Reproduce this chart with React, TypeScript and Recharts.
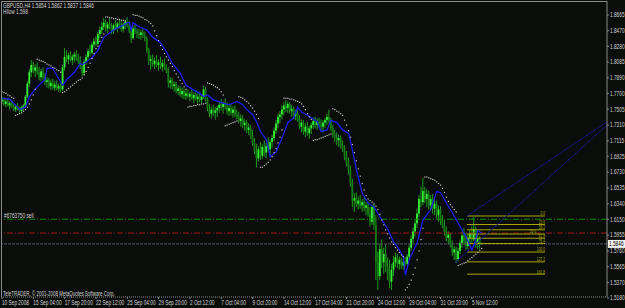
import React from "react";
import { Bar, ComposedChart, Line, ReferenceLine, Scatter, XAxis, YAxis } from "recharts";

// GBPUSD H4, one entry per bar (bar 0 = 10 Sep 2008 00:00)
const opens = [
  1.760, 1.762, 1.757, 1.760, 1.755, 1.758, 1.753, 1.750, 1.754, 1.751,
  1.748, 1.753, 1.755, 1.766, 1.782, 1.796, 1.805, 1.798, 1.802, 1.796,
  1.790, 1.797, 1.789, 1.784, 1.786, 1.779, 1.783, 1.777, 1.781, 1.776,
  1.779, 1.775, 1.802, 1.815, 1.812, 1.817, 1.811, 1.815, 1.818, 1.813,
  1.810, 1.803, 1.795, 1.809, 1.815, 1.822, 1.820, 1.830, 1.834, 1.831,
  1.843, 1.848, 1.852, 1.857, 1.850, 1.855, 1.852, 1.847, 1.854, 1.851,
  1.856, 1.853, 1.849, 1.855, 1.858, 1.854, 1.847, 1.838, 1.850, 1.846,
  1.844, 1.842, 1.845, 1.841, 1.838, 1.823, 1.810, 1.812, 1.806, 1.810,
  1.805, 1.808, 1.803, 1.807, 1.801, 1.798, 1.783, 1.786, 1.779, 1.781,
  1.773, 1.776, 1.769, 1.773, 1.767, 1.770, 1.766, 1.769, 1.764, 1.768,
  1.763, 1.766, 1.762, 1.766, 1.775, 1.762, 1.751, 1.745, 1.750, 1.746,
  1.749, 1.752, 1.756, 1.753, 1.757, 1.754, 1.748, 1.752, 1.746, 1.750,
  1.744, 1.741, 1.736, 1.739, 1.731, 1.734, 1.725, 1.728, 1.717, 1.709,
  1.699, 1.690, 1.701, 1.693, 1.704, 1.697, 1.705, 1.701, 1.710, 1.715,
  1.724, 1.733, 1.741, 1.744, 1.750, 1.755, 1.752, 1.757, 1.748, 1.751,
  1.742, 1.746, 1.738, 1.729, 1.734, 1.723, 1.729, 1.721, 1.727, 1.731,
  1.736, 1.731, 1.735, 1.732, 1.729, 1.734, 1.737, 1.741, 1.736, 1.727,
  1.719, 1.716, 1.712, 1.715, 1.706, 1.702, 1.692, 1.684, 1.676, 1.660,
  1.638, 1.641, 1.634, 1.638, 1.632, 1.636, 1.629, 1.632, 1.622, 1.612,
  1.630, 1.608, 1.562, 1.545, 1.578, 1.562, 1.572, 1.556, 1.548, 1.538,
  1.553, 1.562, 1.568, 1.560, 1.565, 1.558, 1.562, 1.560, 1.569, 1.580,
  1.591, 1.600, 1.610, 1.622, 1.640, 1.636, 1.650, 1.640, 1.646, 1.632,
  1.640, 1.628, 1.634, 1.620, 1.627, 1.613, 1.608, 1.599, 1.592, 1.596,
  1.585, 1.574, 1.578, 1.566, 1.576, 1.586, 1.595, 1.588, 1.582, 1.592,
  1.598, 1.590, 1.603, 1.585, 1.591, 1.5854,
];
const highs = [
  1.766, 1.765, 1.763, 1.764, 1.760, 1.762, 1.757, 1.756, 1.758, 1.753,
  1.755, 1.757, 1.768, 1.785, 1.800, 1.811, 1.809, 1.806, 1.808, 1.803,
  1.800, 1.802, 1.795, 1.790, 1.789, 1.787, 1.788, 1.785, 1.786, 1.782,
  1.783, 1.805, 1.826, 1.823, 1.820, 1.822, 1.818, 1.821, 1.823, 1.819,
  1.816, 1.807, 1.812, 1.818, 1.825, 1.830, 1.833, 1.838, 1.840, 1.846,
  1.852, 1.858, 1.863, 1.861, 1.858, 1.862, 1.857, 1.856, 1.860, 1.858,
  1.862, 1.859, 1.857, 1.861, 1.864, 1.859, 1.851, 1.853, 1.855, 1.850,
  1.849, 1.848, 1.849, 1.846, 1.840, 1.826, 1.817, 1.818, 1.814, 1.817,
  1.812, 1.815, 1.811, 1.813, 1.806, 1.802, 1.790, 1.789, 1.785, 1.784,
  1.780, 1.779, 1.777, 1.776, 1.774, 1.775, 1.772, 1.775, 1.771, 1.774,
  1.770, 1.772, 1.769, 1.780, 1.778, 1.765, 1.757, 1.754, 1.756, 1.753,
  1.755, 1.760, 1.763, 1.760, 1.764, 1.759, 1.756, 1.757, 1.754, 1.755,
  1.750, 1.747, 1.744, 1.743, 1.738, 1.737, 1.733, 1.731, 1.725, 1.715,
  1.708, 1.705, 1.710, 1.708, 1.712, 1.709, 1.716, 1.713, 1.719, 1.728,
  1.737, 1.745, 1.748, 1.755, 1.759, 1.762, 1.760, 1.759, 1.756, 1.754,
  1.750, 1.749, 1.743, 1.738, 1.737, 1.733, 1.735, 1.730, 1.734, 1.740,
  1.741, 1.739, 1.740, 1.738, 1.737, 1.740, 1.745, 1.750, 1.740, 1.731,
  1.725, 1.722, 1.719, 1.718, 1.712, 1.706, 1.699, 1.691, 1.681, 1.665,
  1.647, 1.648, 1.643, 1.645, 1.640, 1.642, 1.636, 1.637, 1.630, 1.633,
  1.634, 1.620, 1.575, 1.585, 1.590, 1.580, 1.584, 1.568, 1.565, 1.560,
  1.570, 1.574, 1.572, 1.569, 1.568, 1.566, 1.568, 1.572, 1.584, 1.595,
  1.605, 1.614, 1.628, 1.645, 1.655, 1.666, 1.655, 1.652, 1.650, 1.645,
  1.646, 1.639, 1.638, 1.632, 1.631, 1.620, 1.614, 1.606, 1.600, 1.598,
  1.589, 1.582, 1.581, 1.580, 1.589, 1.600, 1.604, 1.598, 1.596, 1.602,
  1.606, 1.618, 1.606, 1.596, 1.594, 1.5862,
];
const lows = [
  1.757, 1.755, 1.753, 1.754, 1.750, 1.752, 1.748, 1.747, 1.749, 1.746,
  1.746, 1.749, 1.753, 1.764, 1.778, 1.790, 1.795, 1.790, 1.793, 1.786,
  1.785, 1.787, 1.780, 1.777, 1.776, 1.774, 1.775, 1.773, 1.774, 1.772,
  1.771, 1.773, 1.798, 1.808, 1.806, 1.809, 1.805, 1.808, 1.810, 1.806,
  1.800, 1.791, 1.792, 1.805, 1.811, 1.816, 1.818, 1.826, 1.828, 1.829,
  1.838, 1.843, 1.848, 1.846, 1.844, 1.849, 1.843, 1.843, 1.848, 1.845,
  1.850, 1.846, 1.845, 1.849, 1.851, 1.844, 1.832, 1.836, 1.843, 1.838,
  1.837, 1.836, 1.838, 1.834, 1.820, 1.805, 1.799, 1.803, 1.800, 1.802,
  1.798, 1.800, 1.797, 1.799, 1.795, 1.777, 1.776, 1.775, 1.772, 1.770,
  1.768, 1.766, 1.764, 1.763, 1.762, 1.764, 1.760, 1.762, 1.758, 1.761,
  1.757, 1.759, 1.758, 1.763, 1.760, 1.748, 1.741, 1.739, 1.742, 1.738,
  1.741, 1.746, 1.749, 1.745, 1.750, 1.744, 1.742, 1.743, 1.740, 1.741,
  1.738, 1.733, 1.729, 1.727, 1.724, 1.721, 1.719, 1.714, 1.705, 1.695,
  1.679, 1.686, 1.688, 1.689, 1.692, 1.690, 1.698, 1.694, 1.703, 1.711,
  1.720, 1.727, 1.733, 1.738, 1.743, 1.747, 1.746, 1.745, 1.741, 1.738,
  1.737, 1.735, 1.726, 1.722, 1.719, 1.716, 1.718, 1.714, 1.720, 1.726,
  1.727, 1.725, 1.728, 1.724, 1.722, 1.727, 1.731, 1.733, 1.724, 1.715,
  1.710, 1.706, 1.704, 1.702, 1.698, 1.688, 1.680, 1.670, 1.655, 1.630,
  1.624, 1.630, 1.627, 1.628, 1.624, 1.625, 1.620, 1.618, 1.606, 1.608,
  1.602, 1.540, 1.528, 1.540, 1.555, 1.548, 1.550, 1.540, 1.530, 1.528,
  1.545, 1.556, 1.555, 1.553, 1.554, 1.553, 1.557, 1.558, 1.565, 1.576,
  1.586, 1.594, 1.604, 1.618, 1.630, 1.632, 1.635, 1.630, 1.627, 1.625,
  1.622, 1.620, 1.616, 1.612, 1.608, 1.604, 1.595, 1.588, 1.584, 1.580,
  1.570, 1.565, 1.561, 1.563, 1.572, 1.580, 1.583, 1.577, 1.578, 1.584,
  1.586, 1.588, 1.580, 1.578, 1.579, 1.5837,
];
const closes = [
  1.762, 1.757, 1.760, 1.755, 1.758, 1.753, 1.750, 1.754, 1.751, 1.748,
  1.753, 1.755, 1.766, 1.782, 1.796, 1.805, 1.798, 1.802, 1.796, 1.790,
  1.797, 1.789, 1.784, 1.786, 1.779, 1.783, 1.777, 1.781, 1.776, 1.779,
  1.775, 1.802, 1.815, 1.812, 1.817, 1.811, 1.815, 1.818, 1.813, 1.810,
  1.803, 1.795, 1.809, 1.815, 1.822, 1.820, 1.830, 1.834, 1.831, 1.843,
  1.848, 1.852, 1.857, 1.850, 1.855, 1.852, 1.847, 1.854, 1.851, 1.856,
  1.853, 1.849, 1.855, 1.858, 1.854, 1.847, 1.838, 1.850, 1.846, 1.844,
  1.842, 1.845, 1.841, 1.838, 1.823, 1.810, 1.812, 1.806, 1.810, 1.805,
  1.808, 1.803, 1.807, 1.801, 1.798, 1.783, 1.786, 1.779, 1.781, 1.773,
  1.776, 1.769, 1.773, 1.767, 1.770, 1.766, 1.769, 1.764, 1.768, 1.763,
  1.766, 1.762, 1.766, 1.775, 1.762, 1.751, 1.745, 1.750, 1.746, 1.749,
  1.752, 1.756, 1.753, 1.757, 1.754, 1.748, 1.752, 1.746, 1.750, 1.744,
  1.741, 1.736, 1.739, 1.731, 1.734, 1.725, 1.728, 1.717, 1.709, 1.699,
  1.690, 1.701, 1.693, 1.704, 1.697, 1.705, 1.701, 1.710, 1.715, 1.724,
  1.733, 1.741, 1.744, 1.750, 1.755, 1.752, 1.757, 1.748, 1.751, 1.742,
  1.746, 1.738, 1.729, 1.734, 1.723, 1.729, 1.721, 1.727, 1.731, 1.736,
  1.731, 1.735, 1.732, 1.729, 1.734, 1.737, 1.741, 1.736, 1.727, 1.719,
  1.716, 1.712, 1.715, 1.706, 1.702, 1.692, 1.684, 1.676, 1.660, 1.638,
  1.641, 1.634, 1.638, 1.632, 1.636, 1.629, 1.632, 1.622, 1.612, 1.630,
  1.608, 1.562, 1.545, 1.578, 1.562, 1.572, 1.556, 1.548, 1.538, 1.553,
  1.562, 1.568, 1.560, 1.565, 1.558, 1.562, 1.560, 1.569, 1.580, 1.591,
  1.600, 1.610, 1.622, 1.640, 1.636, 1.650, 1.640, 1.646, 1.632, 1.640,
  1.628, 1.634, 1.620, 1.627, 1.613, 1.608, 1.599, 1.592, 1.596, 1.585,
  1.574, 1.578, 1.566, 1.576, 1.586, 1.595, 1.588, 1.582, 1.592, 1.598,
  1.590, 1.603, 1.585, 1.591, 1.5854, 1.5846,
];
// parabolic SAR dots
const sar = [
  1.772, 1.771, 1.770, 1.768, 1.767, 1.765, 1.764, 1.743, 1.744, 1.745,
  1.746, 1.748, 1.750, 1.753, 1.757, 1.762, 1.768, 1.775, 1.812, 1.811,
  1.810, 1.809, 1.808, 1.806, 1.805, 1.804, 1.802, 1.801, 1.799, 1.798,
  1.796, 1.771, 1.772, 1.774, 1.776, 1.778, 1.780, 1.782, 1.784, 1.786,
  1.787, 1.789, 1.793, 1.797, 1.802, 1.807, 1.813, 1.819, 1.825, 1.828,
  1.834, 1.839, 1.843, 1.864, 1.864, 1.863, 1.863, 1.862, 1.862, 1.861,
  1.861, 1.860, 1.860, 1.859, null, null, null, 1.867, 1.866, 1.866,
  1.865, 1.864, 1.863, 1.861, 1.860, 1.858, 1.856, 1.853, 1.847, 1.841,
  1.835, 1.829, 1.824, 1.819, 1.815, 1.811, 1.807, 1.803, 1.798, 1.794,
  1.790, 1.786, 1.782, 1.778, 1.775, 1.753, 1.754, 1.754, 1.755, 1.755,
  1.756, 1.756, 1.757, 1.757, 1.758, 1.783, 1.782, 1.781, 1.780, 1.778,
  1.777, 1.775, 1.772, 1.768, 1.730, 1.731, 1.732, 1.733, 1.734, 1.735,
  1.736, 1.766, 1.765, 1.764, 1.762, 1.760, 1.758, 1.755, 1.752, 1.748,
  1.744, 1.739, 1.679, 1.679, 1.681, 1.683, 1.685, 1.688, 1.692, 1.697,
  1.702, 1.709, 1.716, 1.725, 1.764, 1.764, 1.764, 1.763, 1.763, 1.762,
  1.761, 1.760, 1.759, 1.757, 1.754, 1.750, 1.745, 1.741, 1.738, 1.712,
  1.713, 1.713, 1.714, 1.715, 1.716, 1.717, 1.718, 1.719, 1.720, 1.751,
  1.750, 1.748, 1.747, 1.745, 1.743, 1.737, 1.731, 1.724, 1.716, 1.707,
  1.697, 1.687, 1.677, 1.668, 1.659, 1.651, 1.644, 1.640, 1.638, 1.636,
  1.634, 1.631, 1.627, 1.621, 1.614, 1.608, 1.602, 1.597, 1.592, 1.587,
  1.584, 1.580, 1.577, 1.574, 1.571, 1.569, 1.528, 1.531, 1.535, 1.540,
  1.547, 1.555, 1.565, 1.576, 1.590, 1.604, 1.667, 1.667, 1.666, 1.665,
  1.664, 1.663, 1.661, 1.659, 1.657, 1.653, 1.648, 1.642, 1.637, 1.633,
  1.630, 1.627, 1.624, 1.558, 1.559, 1.560, 1.561, 1.562, 1.564, 1.566,
  1.568, 1.570, 1.572, 1.574, 1.577, 1.579,
];
// blue average line, read at its turning points
const maBars = [
  0, 4, 9, 12, 14, 18, 22, 23, 26, 27, 31, 33, 37, 40, 41, 46, 49, 52, 57, 62,
  64, 65, 66, 67, 70, 74, 77, 81, 84, 87, 91, 94, 98, 101, 103, 105, 108, 113, 116, 120,
  123, 125, 128, 130, 132, 135, 137, 140, 143, 146, 149, 151, 153, 156, 161, 163, 166, 168, 171, 174,
  177, 179, 181, 184, 187, 190, 193, 197, 200, 202, 205, 206, 208, 212, 215, 219, 222, 224, 227, 230,
  234, 237, 240, 242, 243, 245,
];
const maValues = [
  1.764, 1.763, 1.750, 1.753, 1.766, 1.778, 1.787, 1.801, 1.801, 1.796, 1.780, 1.787, 1.796, 1.807, 1.805, 1.814, 1.823, 1.839, 1.848, 1.854,
  1.857, 1.857, 1.848, 1.857, 1.852, 1.848, 1.839, 1.832, 1.821, 1.807, 1.795, 1.780, 1.774, 1.770, 1.766, 1.768, 1.762, 1.758, 1.756, 1.760,
  1.756, 1.750, 1.744, 1.735, 1.723, 1.713, 1.692, 1.698, 1.715, 1.734, 1.740, 1.753, 1.747, 1.743, 1.735, 1.723, 1.725, 1.737, 1.734, 1.725,
  1.721, 1.700, 1.676, 1.647, 1.635, 1.630, 1.618, 1.603, 1.587, 1.581, 1.569, 1.546, 1.565, 1.586, 1.614, 1.627, 1.649, 1.648, 1.635, 1.623,
  1.606, 1.593, 1.577, 1.590, 1.601, 1.598,
];

const priceTicks = [
  1.8665, 1.847, 1.828, 1.8085, 1.789, 1.77, 1.7505, 1.731, 1.7115, 1.6925,
  1.673, 1.6535, 1.634, 1.615, 1.5955, 1.576, 1.5565, 1.537, 1.518,
];
const timeTicks = [0, 16, 32, 48, 64, 80, 96, 112, 128, 144, 160, 176, 192, 208, 224, 240];
const timeLabels = [
  "10 Sep 2008", "15 Sep 04:00", "17 Sep 20:00", "22 Sep 12:00", "25 Sep 04:00", "29 Sep 20:00",
  "2 Oct 12:00", "7 Oct 04:00", "9 Oct 20:00", "14 Oct 12:00", "17 Oct 04:00", "21 Oct 20:00",
  "24 Oct 12:00", "29 Oct 04:00", "31 Oct 20:00", "5 Nov 12:00",
];

const sellLevel = 1.615;
const hilowLevel = 1.598;
const lastPrice = 1.5846;

const fibLabels = ["0.0", "23.6", "38.2", "50.0", "61.8", "76.4", "100.0", "127.2", "161.8"];
const fibPrices = [1.619, 1.6085, 1.602, 1.5968, 1.5916, 1.5851, 1.5746, 1.5625, 1.5474];
const fibStart = 237.5;
const fibEnd = 277.3;

const channelUpper = [
  { x: 237.5, y: 1.619 },
  { x: 309, y: 1.735 },
];
const channelLower = [
  { x: 231.4, y: 1.5615 },
  { x: 309, y: 1.731 },
];

const maByBar = new Map(maBars.map((b, k) => [b, maValues[k]]));
const data = closes.map((c, i) => ({
  i,
  open: opens[i],
  high: highs[i],
  low: lows[i],
  close: c,
  range: [lows[i], highs[i]],
  ma: maByBar.has(i) ? maByBar.get(i) : null,
}));
const sarPoints = sar.map((v, i) => ({ i, sar: v })).filter((p) => p.sar !== null);

const FONT = "'Liberation Sans', Arial, sans-serif";
const TXT = "#d4d4d4";
const FIB = "#a8a800";

function Small({ x, y, children, anchor = "start", fill = TXT, size = 6.8 }: any) {
  return (
    <text
      transform={`translate(${x},${y}) scale(0.7,1)`}
      fontSize={size}
      fontFamily={FONT}
      fill={fill}
      textAnchor={anchor}
    >
      {children}
    </text>
  );
}

function Candle(props: any) {
  const { x, y, width, height, payload } = props;
  if (x == null || payload == null || isNaN(y)) return null;
  const top = Math.min(y, y + height);
  const span = Math.abs(height);
  const { open, high, low, close } = payload;
  const rng = high - low || 1e-9;
  const toY = (p: number) => top + ((high - p) / rng) * span;
  const c = x + width / 2;
  const b1 = toY(Math.max(open, close));
  const b2 = toY(Math.min(open, close));
  const up = close >= open;
  return (
    <g>
      <rect x={c - 0.5} y={top} width={1} height={Math.max(span, 1)} fill="#1c9c1c" />
      <rect x={c - 0.9} y={b1} width={1.8} height={Math.max(b2 - b1, 1)} fill={up ? "#36f036" : "#147c14"} />
    </g>
  );
}

function PriceTick(props: any) {
  const { x, y, payload } = props;
  return <Small x={x} y={y + 2.3}>{Number(payload.value).toFixed(4)}</Small>;
}

function TimeTick(props: any) {
  const { x, y, payload } = props;
  const k = timeTicks.indexOf(payload.value);
  return <Small x={x} y={y + 3.5}>{timeLabels[k]}</Small>;
}

export default function App() {
  return (
    <div style={{ position: "fixed", left: 0, top: 0, width: 625, height: 308, background: "#0b0d0b", overflow: "hidden" }}>
      <ComposedChart width={625} height={308} data={data} margin={{ top: 1, right: 0, bottom: 0, left: 1 }}>
        <XAxis
          dataKey="i"
          type="number"
          domain={[-0.5, 309]}
          allowDataOverflow
          ticks={timeTicks}
          interval={0}
          height={11}
          tickSize={2}
          tick={<TimeTick />}
          axisLine={{ stroke: "#8c8c8c", strokeDasharray: "1 1" }}
          tickLine={{ stroke: "#8c8c8c" }}
        />
        <YAxis
          orientation="right"
          domain={[1.51925, 1.88374]}
          allowDataOverflow
          ticks={priceTicks}
          interval={0}
          width={18}
          tickSize={2}
          tickMargin={1}
          tick={<PriceTick />}
          axisLine={{ stroke: "#8c8c8c" }}
          tickLine={{ stroke: "#8c8c8c" }}
        />
        <ReferenceLine
          y={sellLevel}
          stroke="#0c8c0c"
          strokeDasharray="6 2 1 2"
          label={(p: any) => <Small x={p.viewBox.x + 3} y={p.viewBox.y - 1.5}>#6763750 sell</Small>}
        />
        <ReferenceLine y={hilowLevel} stroke="#a01414" strokeDasharray="6 2 1 2" />
        <ReferenceLine
          y={lastPrice}
          stroke="#56566c"
          strokeDasharray="3 1"
          label={(p: any) => (
            <g>
              <rect x={p.viewBox.x + p.viewBox.width + 1} y={p.viewBox.y - 4} width={17} height={8} fill="#f2f2f2" />
              <Small x={p.viewBox.x + p.viewBox.width + 2} y={p.viewBox.y + 2.4} fill="#000">
                {lastPrice.toFixed(4)}
              </Small>
            </g>
          )}
        />
        {fibPrices.map((p, k) => (
          <ReferenceLine
            key={fibLabels[k]}
            segment={[
              { x: fibStart, y: p },
              { x: fibEnd, y: p },
            ]}
            stroke={FIB}
            label={(lp: any) => (
              <Small
                x={lp.viewBox.x + lp.viewBox.width - (k === 3 ? 9 : 0)}
                y={lp.viewBox.y - 0.6}
                anchor="end"
                fill={FIB}
                size={4.6}
              >
                {fibLabels[k]}
              </Small>
            )}
          />
        ))}
        <ReferenceLine segment={channelUpper} stroke="#12126e" />
        <ReferenceLine segment={channelLower} stroke="#12126e" />
        <ReferenceLine segment={channelUpper} stroke="#2a2aa8" strokeDasharray="1 8" />
        <ReferenceLine segment={channelLower} stroke="#2a2aa8" strokeDasharray="1 8" />
        <Bar dataKey="range" barSize={2} shape={<Candle />} isAnimationActive={false} />
        <Line
          dataKey="ma"
          type="linear"
          stroke="#1e1eff"
          strokeWidth={1.2}
          dot={false}
          connectNulls
          isAnimationActive={false}
        />
        <Scatter
          data={sarPoints}
          dataKey="sar"
          isAnimationActive={false}
          shape={(p: any) => <rect x={p.cx - 0.6} y={p.cy - 0.6} width={1.2} height={1.2} fill="#c4c4c4" />}
        />
      </ComposedChart>
      <svg width={625} height={308} style={{ position: "absolute", left: 0, top: 0, pointerEvents: "none" }}>
        <line x1={1.5} y1={1.5} x2={607} y2={1.5} stroke="#8c8c8c" />
        <line x1={1.5} y1={1.5} x2={1.5} y2={297} stroke="#8c8c8c" />
        <Small x={3} y={7.5}>GBPUSD,H4  1.5854 1.5862 1.5837 1.5846</Small>
        <Small x={3} y={13.5}>Hilow 1.598</Small>
        <Small x={3} y={295.5} size={6.4}>TeleTRADER, © 2001-2008 MetaQuotes Software Corp.</Small>
      </svg>
    </div>
  );
}
